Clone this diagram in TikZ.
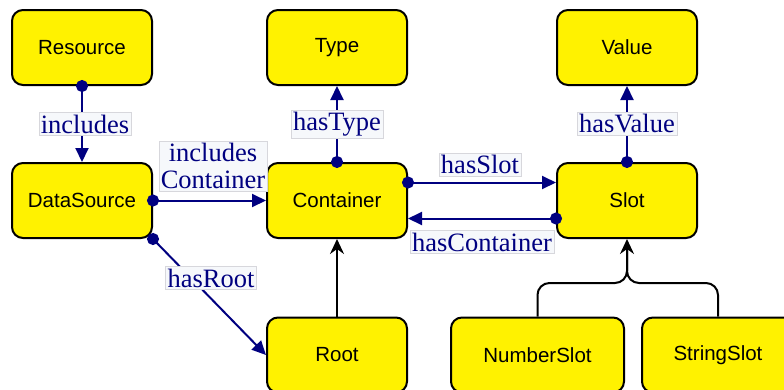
\documentclass[tikz,border=0pt]{standalone}
\usepackage{fontspec}
\setmainfont{Liberation Serif}
\newfontfamily\boxfont{Liberation Sans}
\usetikzlibrary{arrows.meta}
\definecolor{navyc}{RGB}{0,0,128}
\definecolor{labbg}{RGB}{246,248,251}
\definecolor{labbd}{RGB}{215,215,220}
\tikzset{
  cbox/.style={draw=black, line width=2pt, fill=yellow, rounded corners=11pt,
    minimum width=140pt, minimum height=75pt, inner sep=0pt,
    font=\boxfont\fontsize{20.5}{24}\selectfont},
  rel/.style={draw=navyc, line width=2pt, shorten <=-6pt,
    {Circle[length=12pt,width=12pt]}-{Triangle[length=14pt,width=13pt]}},
  lab/.style={fill=labbg, draw=labbd, line width=0.5pt, text=navyc, inner sep=2pt,
    font=\fontsize{26.5}{29}\selectfont, align=center},
  inh/.style={draw=black, line width=2pt, -{Stealth[length=15pt,width=14pt,inset=5pt]}}
}
\begin{document}
\begin{tikzpicture}[x=1pt,y={(0pt,-1pt)}]
\useasboundingbox (0,0) rectangle (784,389);
\clip (0,0) rectangle (784,389);
\node[cbox] (res) at (82,47.5) {Resource};
\node[cbox] (ds) at (82,200.5) {DataSource};
\node[cbox] (type) at (337,47.5) {Type};
\node[cbox] (cont) at (337,200.5) {Container};
\node[cbox] (val) at (627,47.5) {Value};
\node[cbox] (slot) at (627,200.5) {Slot};
\node[cbox] (root) at (337,355) {Root};
\node[cbox, minimum width=173pt] (ns) at (537.5,355) {NumberSlot};
\node[cbox, minimum width=152pt] (ss) at (718,355) {StringSlot};
\coordinate (join) at (627,283);
% inheritance / black arrows
\draw[inh] (root.north) -- (cont.south);
\draw[draw=black, line width=2pt, rounded corners=12pt] (ss.north) |- (join) -- ([yshift=-10pt]slot.south);
\draw[inh, rounded corners=12pt] (ns.north) |- (join) -- (slot.south);
% relations
\draw[rel] (res.south) -- (ds.north) node[lab, pos=0.5, xshift=3pt] {includes};
\draw[rel] (ds.east) -- (cont.west);
\node[lab] (icl) at (213,166) {includes\\[-2pt]Container};
\draw[rel] (cont.north) -- (type.south) node[lab, pos=0.5] {hasType};
\draw[rel] (slot.north) -- (val.south) node[lab, pos=0.5] {hasValue};
\draw[rel] ([yshift=18pt]cont.east) -- ([yshift=18pt]slot.west);
\node[lab] (hs) at (480,164.5) {hasSlot};
\draw[rel] ([yshift=-18pt]slot.west) -- ([yshift=-18pt]cont.east);
\node[lab] (hc) at (482,242) {hasContainer};
\draw[rel] (ds.south east) -- (root.west);
\node[lab] (hr) at (211,278) {hasRoot};
\end{tikzpicture}
\end{document}
